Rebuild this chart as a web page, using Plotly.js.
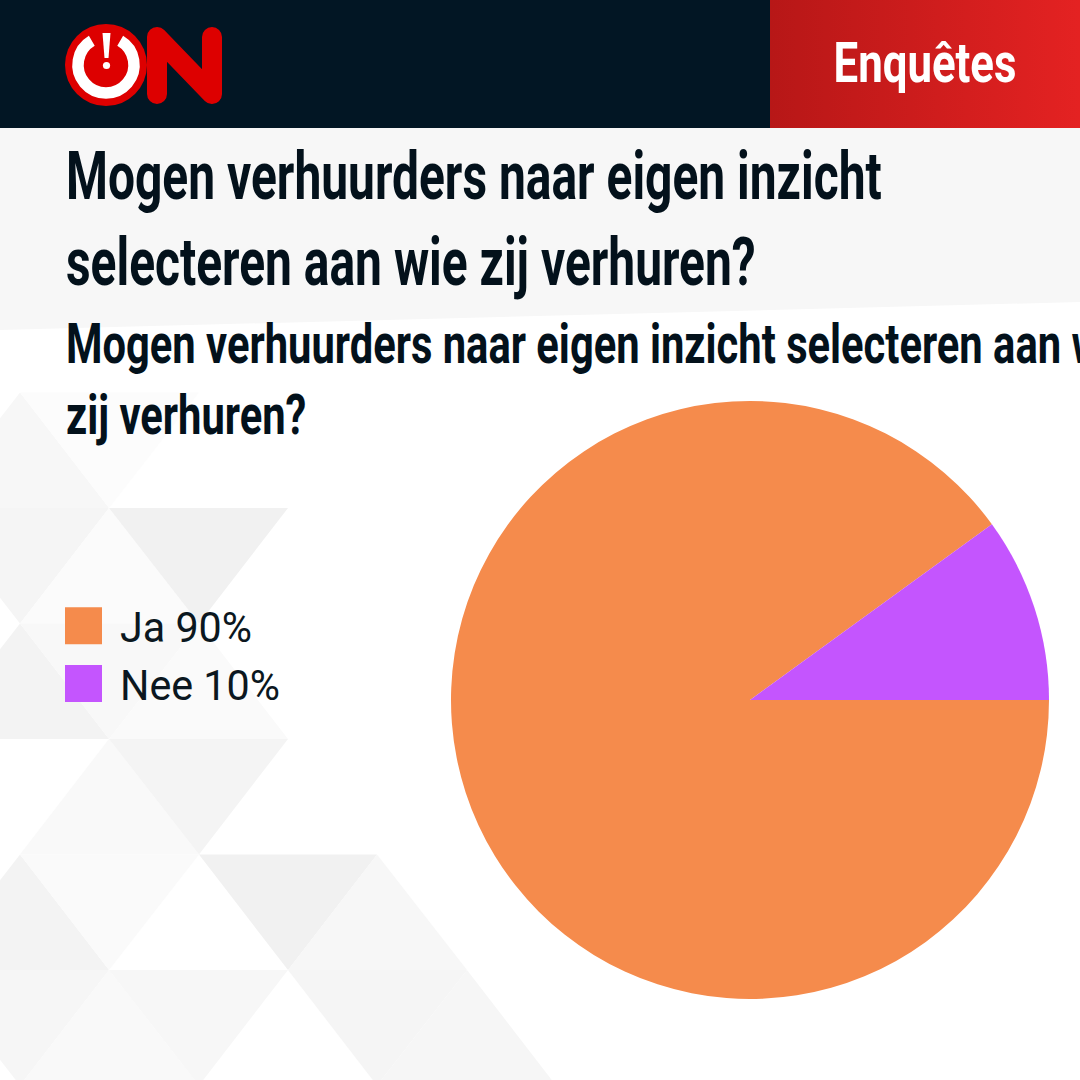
<!DOCTYPE html>
<html>
<head>
<meta charset="utf-8">
<script src="https://cdn.plot.ly/plotly-3.0.1.min.js"></script>
<style>
  html, body { margin: 0; padding: 0; background: #ffffff; }
  #wrap { position: relative; width: 1080px; height: 1080px; overflow: hidden; }
  #bg { position: absolute; left: 0; top: 0; }
  #chart { position: absolute; left: 0; top: 0; width: 1080px; height: 1080px; }
</style>
</head>
<body>
<div id="wrap">
<svg id="bg" width="1080" height="1080" xmlns="http://www.w3.org/2000/svg">
  <defs>
    <linearGradient id="redg" x1="0" y1="0" x2="1" y2="0">
      <stop offset="0" stop-color="#b71717"/>
      <stop offset="1" stop-color="#e42222"/>
    </linearGradient>
  </defs>
  <rect x="0" y="0" width="1080" height="1080" fill="#ffffff"/>
  <polygon points="0,128 1080,128 1080,302 0,330" fill="#f7f7f7"/>
  <g id="tris"></g>
  <rect x="0" y="0" width="1080" height="128" fill="#021624"/>
  <rect x="770" y="0" width="310" height="128" fill="url(#redg)"/>
  <!-- logo -->
  <circle cx="106" cy="65" r="41" fill="#dd0000"/>
  <path d="M 91.8 40.8 A 28 28 0 1 0 120.2 40.8" fill="none" stroke="#ffffff" stroke-width="11.5"/>
  <path d="M 102.5 33 L 110.5 33 L 108.5 58 L 104.5 58 Z" fill="#ffffff"/>
  <circle cx="106.5" cy="65.5" r="3.6" fill="#ffffff"/>
  <path d="M 157 37 L 157 94 M 157 37 L 212 94 M 212 37 L 212 94" fill="none" stroke="#dd0000" stroke-width="20" stroke-linecap="round" stroke-linejoin="round"/>
</svg>
<div id="chart"></div>
</div>
<script>
// ---- data ----
const categories = ['Ja', 'Nee'];
const values = [90, 10];
const sliceColors = ['#f58b4c', '#c455fe'];
const titleText = 'Mogen verhuurders naar eigen inzicht<br>selecteren aan wie zij verhuren?';
const subtitleText = 'Mogen verhuurders naar eigen inzicht selecteren aan wie<br>zij verhuren?';
const badgeText = 'Enquêtes';

// ---- decorative background triangles ----
(function () {
  const Y = [392.5, 508, 623.5, 739, 854.5, 970, 1085.5];
  const tris = [
    [[20,0],[-70,1],[109,1],'#f7f7f7'],
    [[20,0],[199,0],[109,1],'#fcfcfc'],
    [[-70,1],[109,1],[20,2],'#f5f5f5'],
    [[109,1],[20,2],[199,2],'#fbfbfb'],
    [[109,1],[288,1],[199,2],'#f1f1f1'],
    [[20,2],[-70,3],[109,3],'#f3f3f3'],
    [[20,2],[199,2],[109,3],'#f8f8f8'],
    [[199,2],[109,3],[288,3],'#fafafa'],
    [[109,3],[20,4],[199,4],'#f9f9f9'],
    [[109,3],[288,3],[199,4],'#f4f4f4'],
    [[20,4],[-70,5],[109,5],'#f3f3f3'],
    [[20,4],[199,4],[109,5],'#fafafa'],
    [[199,4],[377,4],[288,5],'#f1f1f1'],
    [[377,4],[288,5],[467,5],'#f7f7f7'],
    [[-70,5],[109,5],[20,6],'#f6f6f6'],
    [[109,5],[20,6],[199,6],'#f9f9f9'],
    [[109,5],[288,5],[199,6],'#f7f7f7'],
    [[288,5],[467,5],[377,6],'#f5f5f5'],
    [[467,5],[377,6],[556,6],'#f6f6f6']
  ];
  const g = document.getElementById('tris');
  let html = '';
  tris.forEach(t => {
    const pts = t.slice(0,3).map(p => p[0] + ',' + Y[p[1]]).join(' ');
    html += '<polygon points="' + pts + '" fill="' + t[3] + '"/>';
  });
  g.innerHTML = html;
})();

const FONT = 'Roboto, "Noto Sans", sans-serif';
const W = 1080, H = 1080;
const legendLabels = categories.map((c, i) => c + ' ' + values[i] + '%');

const data = [{
  type: 'pie',
  labels: legendLabels,
  values: values,
  marker: { colors: sliceColors, line: { width: 0 } },
  sort: false,
  direction: 'clockwise',
  rotation: 90,
  textinfo: 'none',
  hoverinfo: 'none',
  domain: { x: [451 / W, 1049 / W], y: [81 / H, 679 / H] }
}];

const layout = {
  width: W,
  height: H,
  margin: { l: 0, r: 0, t: 0, b: 0 },
  paper_bgcolor: 'rgba(0,0,0,0)',
  plot_bgcolor: 'rgba(0,0,0,0)',
  title: {
    text: titleText,
    font: { family: FONT, size: 66, color: '#03111b', weight: 'bold' },
    x: 66 / W, xref: 'paper', xanchor: 'left',
    y: 1 - 199 / H, yref: 'container', yanchor: 'top'
  },
  showlegend: true,
  legend: {
    x: 62 / W, xanchor: 'left',
    y: 1 - 592 / H, yanchor: 'top',
    itemwidth: 48,
    bgcolor: 'rgba(0,0,0,0)',
    font: { family: FONT, size: 42, color: '#0b1720' }
  },
  annotations: [
    { text: subtitleText, xref: 'paper', yref: 'paper', x: 64 / W, y: 1 - 380 / H,
      xanchor: 'left', yanchor: 'middle', align: 'left', showarrow: false,
      font: { family: FONT, size: 55, color: '#03111b', weight: 'bold' } },
    { text: badgeText, xref: 'paper', yref: 'paper', x: 924.5 / W, y: 1 - 63 / H,
      xanchor: 'center', yanchor: 'middle', showarrow: false,
      font: { family: FONT, size: 56, color: '#ffffff', weight: 'bold' } }
  ]
};

// horizontal condensing so the narrow display face of the original is approximated
function squeeze(el, s, anchor) {
  const b = el.getBBox();
  const ax = anchor === 'center' ? b.x + b.width / 2 : b.x;
  const prev = el.getAttribute('transform') || '';
  el.setAttribute('transform', prev + ' translate(' + ax + ',0) scale(' + s + ',1) translate(' + (-ax) + ',0)');
}

Plotly.newPlot('chart', data, layout, { staticPlot: true, displayModeBar: false }).then(function () {
  // condensed title: first line should span ~816 px
  const tEl = document.querySelector('.g-gtitle text');
  let s = 0.74;
  if (tEl) {
    const firstLine = tEl.querySelector('tspan.line') || tEl;
    const len = firstLine.getComputedTextLength();
    if (len > 0) s = 816 / len;
    squeeze(tEl, s, 'left');
  }
  // subtitle and badge
  document.querySelectorAll('.annotation-text').forEach(function (el) {
    const isBadge = el.textContent.indexOf('Enqu') === 0;
    if (isBadge) {
      const len = el.getComputedTextLength();
      squeeze(el, len > 0 ? 183 / len : s, 'center');
    } else {
      squeeze(el, s * 1.044, 'left');
    }
  });
  // legend texts and symbols
  const lt = document.querySelectorAll('.legend .legendtext');
  let ls = s;
  if (lt.length > 1) {
    const len = lt[1].getComputedTextLength();
    if (len > 0) ls = 160 / len;
  }
  lt.forEach(function (el) { squeeze(el, ls, 'left'); });
  document.querySelectorAll('.legend .legendpoints path').forEach(function (p) {
    p.setAttribute('d', 'M18.5,18.5H-18.5V-18.5H18.5Z');
    p.setAttribute('transform', 'translate(21.5,0)');
  });
});
</script>
</body>
</html>
